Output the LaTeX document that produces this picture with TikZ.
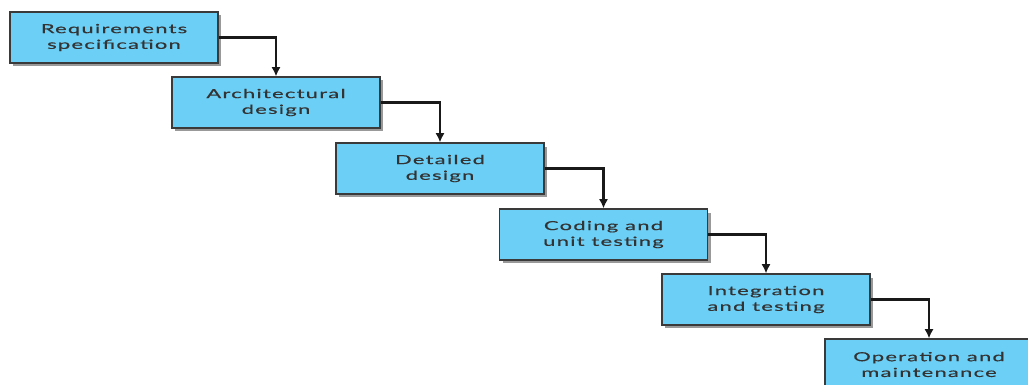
\documentclass[tikz,border=0pt]{standalone}
\usepackage{xcolor}
\usepackage{fontspec}
\usepackage{tikz}
\usetikzlibrary{
  arrows.meta,
  shadows}

\newfontfamily\phasefont[FakeStretch=1.75,LetterSpace=10,FakeBold=0.6]{Lato}
\definecolor{phaseblue}{RGB}{108,207,246}
\definecolor{phaseline}{RGB}{58,58,58}

\tikzset{
  phase/.style={draw=phaseline, line width=1.2pt, fill=phaseblue,
    minimum width=156pt, minimum height=38pt, inner sep=0pt,
    align=center, text=black!80,
    font=\phasefont\fontsize{9.4pt}{11.8pt}\selectfont,
    drop shadow={shadow xshift=2.5pt, shadow yshift=-2.5pt,
      fill=black!40, opacity=1}},
  flow/.style={draw=black!90, line width=1.6pt,
    -{Latex[length=7pt,width=7pt]}}
}

\begin{document}
\begin{tikzpicture}[x=0.75pt,y=-0.75pt]
  \useasboundingbox (0,0) rectangle (1028,385);

  \node[phase] (req)  at (114,37.5)   {Requirements\\specification};
  \node[phase] (arch) at (276,102.5)  {Architectural\\design};
  \node[phase] (det)  at (440,168.5)  {Detailed\\design};
  \node[phase] (code) at (603.5,234.5) {Coding and\\unit testing};
  \node[phase] (intg) at (766,299.5)  {Integration\\and testing};
  \node[phase] (oper) at (929,364.5)  {Operation and\\maintenance};

  \draw[flow] (req.east)  -| (arch.north);
  \draw[flow] (arch.east) -| (det.north);
  \draw[flow] (det.east)  -| (code.north);
  \draw[flow] (code.east) -| (intg.north);
  \draw[flow] (intg.east) -| (oper.north);
\end{tikzpicture}
\end{document}
